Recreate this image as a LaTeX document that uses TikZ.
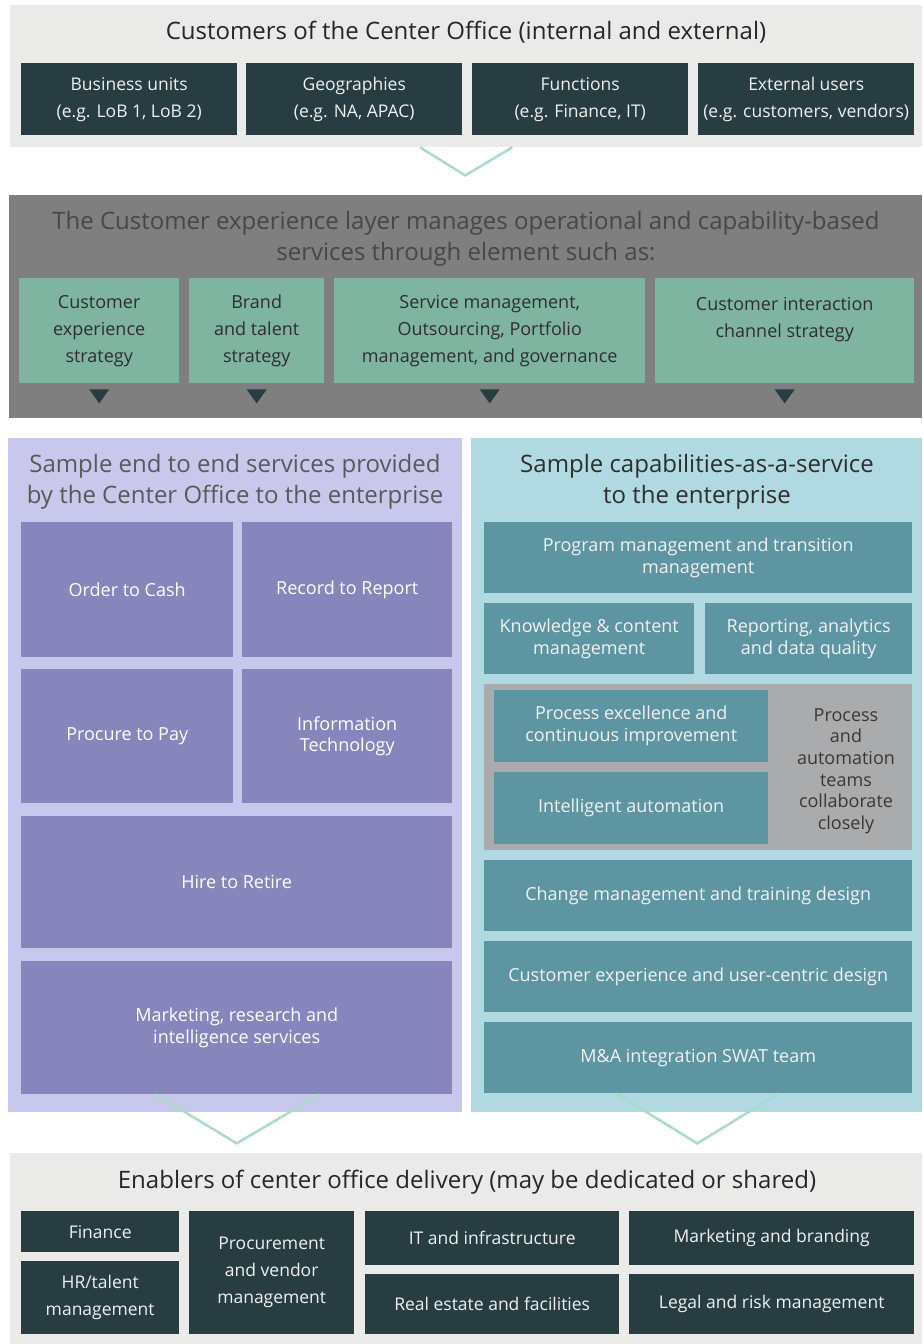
\documentclass[tikz,border=0pt]{standalone}
\usepackage{fontspec}
\setmainfont{Open Sans}
\usepackage{tikz}
\usepackage{xcolor}
\usetikzlibrary{calc}
\definecolor{paleGray}{HTML}{EAEAE8}
\definecolor{slateDark}{HTML}{283D42}
\definecolor{mintLine}{HTML}{A8DCC8}
\definecolor{midGray}{HTML}{7F7F7F}
\definecolor{sageGreen}{HTML}{7FB5A0}
\definecolor{lavender}{HTML}{C8C8EC}
\definecolor{purpleBox}{HTML}{8686BC}
\definecolor{paleBlue}{HTML}{B0D9E1}
\definecolor{tealBox}{HTML}{5E95A2}
\definecolor{stoneGray}{HTML}{AAABAD}
\tikzset{
    panel/.style = {rectangle, inner sep=0pt, anchor=north west},
    dark-box/.style = {panel, fill=slateDark, text=white!94!black, align=center, font=\fontsize{17.5}{27}\selectfont},
    green-box/.style = {panel, fill=sageGreen, text=black!82, align=center, font=\fontsize{18}{27}\selectfont},
    purple-box/.style = {panel, fill=purpleBox, text=white, align=center, font=\fontsize{18}{21.5}\selectfont},
    teal-box/.style = {panel, fill=tealBox, text=white!95!black, align=center, font=\fontsize{18}{22}\selectfont},
    big-title/.style = {align=center, font=\fontsize{24}{31}\selectfont},
    chevron/.style = {draw=mintLine, line width=2.5pt},
    pointer/.style = {fill=slateDark},
}
\begin{document}
\begin{tikzpicture}[x=1pt, y=-1pt]
\useasboundingbox[fill=white] (0,0) rectangle (922,1344);

% customers
\node[panel, fill=paleGray, minimum width=912pt, minimum height=142pt] (customers) at (10,5) {};
\node[big-title, text=black!85] (cust-title) at (466,32) {Customers of the Center Office (internal and external)};
\node[dark-box, minimum width=216pt, minimum height=72pt] (bu) at (21,63) {Business units\\(e.g. LoB 1, LoB 2)};
\node[dark-box, minimum width=216pt, minimum height=72pt] (geo) at (246,63) {Geographies\\(e.g. NA, APAC)};
\node[dark-box, minimum width=216pt, minimum height=72pt] (func) at (472,63) {Functions\\(e.g. Finance, IT)};
\node[dark-box, minimum width=216pt, minimum height=72pt] (ext) at (698,63) {External users\\(e.g. customers, vendors)};
\draw[chevron] ($(customers.south)+(-46,0)$) -- ($(customers.south)+(-1,28)$) -- ($(customers.south)+(46,0)$);

% customer experience layer
\node[panel, fill=midGray, minimum width=913pt, minimum height=223pt] (cx-layer) at (9,195) {};
\node[big-title, text=black!72] (cx-title) at (466,239) {The Customer experience layer manages operational and capability-based\\services through element such as:};
\node[green-box, minimum width=160pt, minimum height=105pt] (cx-strat) at (19,278) {Customer\\experience\\strategy};
\node[green-box, minimum width=135pt, minimum height=105pt] (brand) at (189,278) {Brand\\and talent\\strategy};
\node[green-box, minimum width=311pt, minimum height=105pt] (service) at (334,278) {Service management,\\Outsourcing, Portfolio\\management, and governance};
\node[green-box, minimum width=259pt, minimum height=105pt] (channel) at (655,278) {Customer interaction\\channel strategy\\~};
\foreach \b in {cx-strat, brand, service, channel}
    \fill[pointer] ($(\b.south)+(-10,6)$) -- ++(20,0) -- ++(-10,14) -- cycle;

% end to end services
\node[panel, fill=lavender, minimum width=454pt, minimum height=674pt] (services) at (8,438) {};
\node[big-title, text=black!65] (svc-title) at (235,482) {Sample end to end services provided\\by the Center Office to the enterprise};
\node[purple-box, minimum width=212pt, minimum height=135pt] (o2c) at (21,522) {Order to Cash};
\node[purple-box, minimum width=210pt, minimum height=135pt] (r2r) at (242,522) {Record to Report};
\node[purple-box, minimum width=212pt, minimum height=134pt] (p2p) at (21,669) {Procure to Pay};
\node[purple-box, minimum width=210pt, minimum height=134pt] (it) at (242,669) {Information\\Technology};
\node[purple-box, minimum width=431pt, minimum height=132pt] (h2r) at (21,816) {Hire to Retire};
\node[purple-box, minimum width=431pt, minimum height=133pt] (mkt) at (21,961) {Marketing, research and\\intelligence services};
\draw[chevron] ($(mkt.south)+(-81,0)$) -- ($(mkt.south)+(0,49)$) -- ($(mkt.south)+(83,0)$);

% capabilities as a service
\node[panel, fill=paleBlue, minimum width=451pt, minimum height=674pt] (capab) at (471,438) {};
\node[big-title, text=black!82] (cap-title) at (697,482) {Sample capabilities-as-a-service\\to the enterprise};
\node[teal-box, minimum width=428pt, minimum height=71pt] (prog) at (484,522) {Program management and transition\\management};
\node[teal-box, minimum width=210pt, minimum height=71pt] (know) at (484,603) {Knowledge \& content\\management};
\node[teal-box, minimum width=207pt, minimum height=71pt] (report) at (705,603) {Reporting, analytics\\and data quality};
\node[panel, fill=stoneGray, minimum width=428pt, minimum height=166pt] (collab) at (484,684) {};
\node[teal-box, minimum width=274pt, minimum height=72pt] (excel) at (494,690) {Process excellence and\\continuous improvement};
\node[teal-box, minimum width=274pt, minimum height=72pt] (autom) at (494,772) {Intelligent automation};
\node[align=center, text=black!78, font=\fontsize{18}{21.6}\selectfont] (collab-note) at (846,771) {Process\\and\\automation\\teams\\collaborate\\closely};
\node[teal-box, minimum width=428pt, minimum height=71pt] (change) at (484,860) {Change management and training design};
\node[teal-box, minimum width=428pt, minimum height=71pt] (ux) at (484,941) {Customer experience and user-centric design};
\node[teal-box, minimum width=428pt, minimum height=71pt] (swat) at (484,1022) {M\&A integration SWAT team};
\draw[chevron] ($(swat.south)+(-82,0)$) -- ($(swat.south)+(-1,50)$) -- ($(swat.south)+(81,0)$);

% enablers
\node[panel, fill=paleGray, minimum width=912pt, minimum height=191pt] (enablers) at (10,1153) {};
\node[big-title, text=black!85] (en-title) at (467,1182) {Enablers of center office delivery (may be dedicated or shared)};
\node[dark-box, minimum width=158pt, minimum height=41pt] (fin) at (21,1211) {Finance};
\node[dark-box, minimum width=158pt, minimum height=73pt] (hr) at (21,1261) {HR/talent\\management};
\node[dark-box, minimum width=165pt, minimum height=123pt] (proc) at (189,1211) {Procurement\\and vendor\\management};
\node[dark-box, minimum width=254pt, minimum height=54pt] (infra) at (365,1211) {IT and infrastructure};
\node[dark-box, minimum width=254pt, minimum height=60pt] (estate) at (365,1274) {Real estate and facilities};
\node[dark-box, minimum width=285pt, minimum height=54pt] (brandg) at (629,1211) {Marketing and branding};
\node[dark-box, minimum width=285pt, minimum height=60pt] (legal) at (629,1274) {Legal and risk management};
\end{tikzpicture}
\end{document}
